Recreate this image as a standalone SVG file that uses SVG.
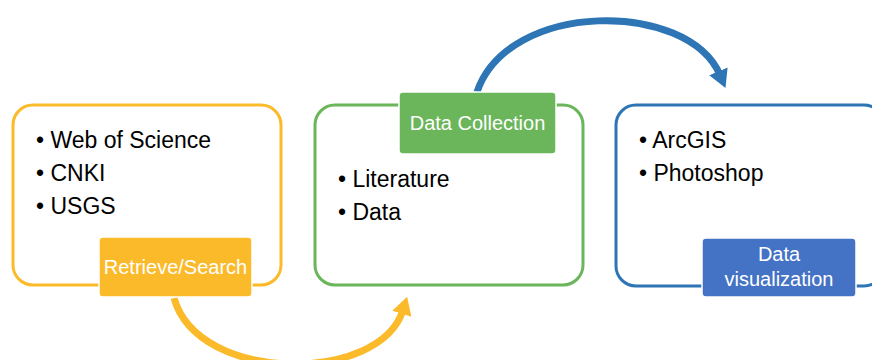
<svg xmlns="http://www.w3.org/2000/svg" width="872" height="360" viewBox="0 0 872 360">
  <defs>
    <style>
      .box { fill: #ffffff; stroke-width: 3; }
      .item { font-family: "Liberation Sans", Arial, sans-serif; font-size: 23px; fill: #000000; }
      .tag { font-family: "Liberation Sans", Arial, sans-serif; font-size: 20px; fill: #ffffff; text-anchor: middle; }
      .tagbox { stroke: #ffffff; stroke-width: 1.5; }
      .arc { fill: none; stroke-width: 7; }
    </style>
    <marker id="headYellow" markerUnits="userSpaceOnUse" markerWidth="30" markerHeight="30" refX="4" refY="10" orient="auto">
      <path d="M0,0 L18,10 L0,20 Z" fill="#FBBA2A"/>
    </marker>
    <marker id="headBlue" markerUnits="userSpaceOnUse" markerWidth="30" markerHeight="30" refX="4" refY="10" orient="auto">
      <path d="M0,0 L18,10 L0,20 Z" fill="#2E75B6"/>
    </marker>
  </defs>

  <!-- connectors -->
  <g id="connectors">
    <path class="arc" stroke="#FBBA2A" d="M174,298 C198,384 380,384 403,310" marker-end="url(#headYellow)"/>
    <path class="arc" stroke="#2E75B6" stroke-width="6" d="M477,92 C508,0 688,0 720,75" marker-end="url(#headBlue)"/>
  </g>

  <!-- Retrieve/Search -->
  <g id="node-retrieve">
    <rect class="box" x="13" y="105" width="268" height="180" rx="20" stroke="#FBBA2A"/>
    <text class="item" x="36" y="148">• Web of Science</text>
    <text class="item" x="36" y="181">• CNKI</text>
    <text class="item" x="36" y="214">• USGS</text>
    <rect class="tagbox" x="99" y="237" width="153" height="60" rx="4" fill="#FBBA2A"/>
    <text class="tag" x="175.5" y="274">Retrieve/Search</text>
  </g>

  <!-- Data Collection -->
  <g id="node-collection">
    <rect class="box" x="315" y="105" width="268" height="180" rx="20" stroke="#6BB55A"/>
    <rect class="tagbox" x="399" y="92" width="157" height="62" rx="4" fill="#6BB55A"/>
    <text class="tag" x="477.5" y="130">Data Collection</text>
    <text class="item" x="338" y="187">• Literature</text>
    <text class="item" x="338" y="220">• Data</text>
  </g>

  <!-- Data visualization -->
  <g id="node-visualization">
    <rect class="box" x="616" y="105" width="268" height="181" rx="20" stroke="#2E75B6"/>
    <text class="item" x="639" y="148">• ArcGIS</text>
    <text class="item" x="639" y="181">• Photoshop</text>
    <rect class="tagbox" x="702" y="238" width="154" height="59" rx="4" fill="#4472C4"/>
    <text class="tag" x="779" y="261">Data</text>
    <text class="tag" x="779" y="286">visualization</text>
  </g>
</svg>
